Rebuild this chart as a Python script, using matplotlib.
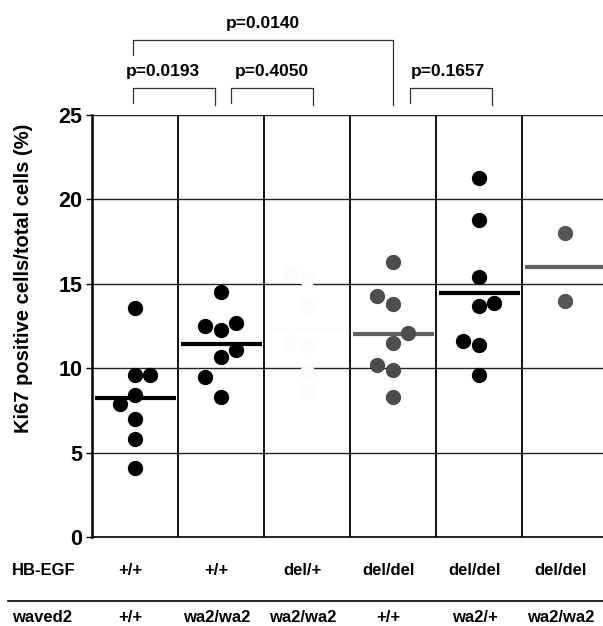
import numpy as np
import matplotlib.pyplot as plt
from matplotlib.transforms import blended_transform_factory

plt.rcParams['font.family'] = ['Liberation Sans', 'DejaVu Sans']
plt.rcParams['font.weight'] = 'bold'

# genotype labels per column
hbegf = ['+/+', '+/+', 'del/+', 'del/del', 'del/del', 'del/del']
waved2 = ['+/+', 'wa2/wa2', 'wa2/wa2', '+/+', 'wa2/+', 'wa2/wa2']

# Ki67 values, with small horizontal shifts
g1 = [13.6, 9.6, 9.6, 8.4, 7.9, 7.0, 5.8, 4.1]
g1_dx = [0, 0, 0.18, 0, -0.18, 0, 0, 0]
g2 = [14.5, 12.7, 12.5, 12.3, 11.1, 10.7, 9.5, 8.3]
g2_dx = [0, 0.17, -0.19, 0, 0.17, 0, -0.19, 0]
g3 = [15.6, 15.3, 13.7, 11.5, 11.4, 9.8, 8.6]      # nearly invisible in the scan
g3_dx = [-0.2, 0, 0, -0.2, 0, 0, 0]
g4 = [16.3, 14.3, 13.8, 12.1, 11.5, 10.2, 9.9, 8.3]
g4_dx = [0, -0.19, 0, 0.18, 0, -0.19, 0, 0]
g5 = [21.3, 18.8, 15.4, 13.9, 13.7, 11.6, 11.4, 9.6]
g5_dx = [0, 0, 0, 0.18, 0, -0.19, 0, 0]
g6 = [18.0, 14.0]
g6_dx = [0, 0]

groups = [g1, g2, g3, g4, g5, g6]
shifts = [g1_dx, g2_dx, g3_dx, g4_dx, g5_dx, g6_dx]
colors = ['black', 'black', '#fbfbfb', '#4d4d4d', 'black', '#555555']
mean_colors = ['black', 'black', '#fdfdfd', '#606060', 'black', '#606060']

# (left col, right col, p text, level, text shift)
pvals = [(0.48, 1.43, 'p=0.0193', 0, -0.13), (1.62, 2.57, 'p=0.4050', 0, 0),
         (3.70, 4.65, 'p=0.1657', 0, -0.04), (0.48, 3.50, 'p=0.0140', 1, 0)]

W, H = 603, 626
fig = plt.figure(figsize=(W / 100, H / 100), dpi=100)
ax = fig.add_axes([92 / W, 1 - 537.3 / H, 516 / W, 422.3 / H])

ax.set_xlim(0, 6)
ax.set_ylim(0, 25)

# grid: column separators and horizontal lines
for k in range(1, 6):
    ax.axvline(k, color='black', lw=1.3, zorder=1)
for v in [5, 10, 15, 20, 25]:
    ax.axhline(v, color='#222222', lw=1.0, zorder=1)

for i, (vals, dx) in enumerate(zip(groups, shifts)):
    xs = i + 0.5 + np.array(dx)
    ax.plot(xs, vals, 'o', ms=10, color=colors[i], mec=colors[i], zorder=3,
            clip_on=False)
    m = np.mean(vals)
    ax.plot([i + 0.04, i + 0.98], [m, m], color=mean_colors[i], lw=3,
            solid_capstyle='butt', zorder=2)

for s in ['top', 'right']:
    ax.spines[s].set_visible(False)
ax.spines['left'].set_linewidth(1.8)
ax.spines['bottom'].set_linewidth(1.2)

ax.set_xticks([])
ax.set_yticks([0, 5, 10, 15, 20, 25])
ax.tick_params(axis='y', length=4, width=1, labelsize=15.5, pad=3)
for t in ax.get_yticklabels():
    t.set_fontweight('bold')

# significance brackets above the plot
for x0, x1, txt, lev, sh in pvals:
    top = 26.6 if lev == 0 else 29.45
    l0 = 25.7 if lev == 0 else 28.55
    r0 = 25.6
    ax.plot([x0, x0, x1, x1], [l0, top, top, r0], color='#333333', lw=0.9,
            clip_on=False)
    ty = 27.55 if lev == 0 else 30.4
    ax.text((x0 + x1) / 2 + sh, ty, txt, ha='center', va='center',
            fontsize=12.5, fontweight='bold')

# y label
fig.text(24 / W, 1 - 278 / H, 'Ki67 positive cells/total cells (%)',
         rotation=90, ha='center', va='center', fontsize=14.5,
         fontweight='bold')

# genotype rows under the chart
trans = blended_transform_factory(ax.transData, fig.transFigure)
fig.text(12 / W, 1 - 570.5 / H, 'HB-EGF', ha='left', va='center',
         fontsize=12, fontweight='bold')
fig.text(12 / W, 1 - 617.5 / H, 'waved2', ha='left', va='center',
         fontsize=12, fontweight='bold')
for i in range(6):
    ax.text(i + 0.45, 1 - 570.5 / H, hbegf[i], transform=trans, ha='center',
            va='center', fontsize=12, fontweight='bold')
    ax.text(i + 0.45, 1 - 617.5 / H, waved2[i], transform=trans, ha='center',
            va='center', fontsize=12, fontweight='bold')
fig.add_artist(plt.Line2D([8 / W, 1], [1 - 601 / H, 1 - 601 / H],
                          color='black', lw=1.2))

fig.savefig('out.png', dpi=100)
